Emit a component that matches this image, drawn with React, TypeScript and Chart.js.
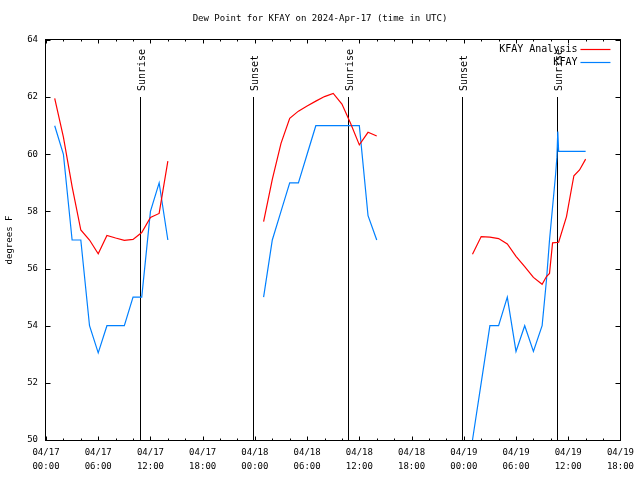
import React, { useEffect, useRef } from 'react';
import { Chart, registerables } from 'chart.js';

Chart.register(...registerables);

// ---- Data (hours since 2024-04-17 00:00 UTC) ----
const analysisHours: number[] = [
  1, 2, 3, 4, 5, 6, 7, 8, 9, 10, 11, 12, 13, 14,
  19,
  25, 26, 27, 28, 29, 30, 31, 32, 33, 34, 35, 36, 37, 38,
  44,
  49, 50, 51, 52, 53, 54, 55, 56, 57, 57.5, 57.85, 58.2, 58.9, 59.8, 60.35, 60.65, 61.3, 62,
];
const analysisValues: (number | null)[] = [
  61.96, 60.6, 58.87, 57.35, 57.0, 56.52, 57.16, 57.07, 56.99, 57.02, 57.26, 57.79, 57.93, 59.76,
  null,
  57.64, 59.12, 60.38, 61.26, 61.51, 61.69, 61.86, 62.02, 62.13, 61.76, 61.08, 60.33, 60.77, 60.64,
  null,
  56.5, 57.12, 57.1, 57.05, 56.86, 56.43, 56.07, 55.69, 55.45, 55.72, 55.83, 56.9, 56.92, 57.82, 58.75, 59.25, 59.45, 59.83,
];

const obsHours: number[] = [
  1, 2, 3, 4, 5, 6, 7, 8, 9, 10, 11, 12, 13, 14,
  19,
  25, 26, 27, 28, 29, 30, 31, 32, 33, 34, 35, 36, 37, 38,
  44,
  49, 50, 51, 52, 53, 54, 55, 56, 57, 57.5, 57.85, 58.55, 58.7, 58.8, 58.9, 62,
];
const obsValues: (number | null)[] = [
  61, 60, 57, 57, 54, 53.05, 54, 54, 54, 55, 55, 58, 59, 57,
  null,
  55, 57, 58, 59, 59, 60, 61, 61, 61, 61, 61, 61, 57.85, 57,
  null,
  50, 52, 54, 54, 55, 53.1, 54, 53.1, 54, 55.6, 57, 59.3, 59.9, 60.8, 60.1, 60.1,
];

const seriesLabels = ['KFAY Analysis', 'KFAY'];
const seriesColors = ['#ff0000', '#0080ff'];

const eventHours = [10.85, 23.8, 34.7, 47.8, 58.7];
const eventLabels = ['Sunrise', 'Sunset', 'Sunrise', 'Sunset', 'Sunrise'];

const xTickDates = ['04/17', '04/17', '04/17', '04/17', '04/18', '04/18', '04/18', '04/18', '04/19', '04/19', '04/19', '04/19'];
const xTickTimes = ['00:00', '06:00', '12:00', '18:00', '00:00', '06:00', '12:00', '18:00', '00:00', '06:00', '12:00', '18:00'];

const titleText = 'Dew Point for KFAY on 2024-Apr-17 (time in UTC)';
const yAxisTitle = 'degrees F';

const FONT = '"DejaVu Sans Mono", "Liberation Mono", monospace';

const decorPlugin = {
  id: 'decor',
  beforeDatasetsDraw(chart: any) {
    const { ctx, chartArea: a, scales } = chart;
    const x = scales.x;
    ctx.save();
    ctx.strokeStyle = '#000';
    ctx.fillStyle = '#000';
    ctx.lineWidth = 1;
    ctx.font = `10px ${FONT}`;
    eventHours.forEach((h, i) => {
      const px = Math.round(x.getPixelForValue(h)) + 0.5;
      ctx.beginPath();
      ctx.moveTo(px, a.top + 57);
      ctx.lineTo(px, a.bottom);
      ctx.stroke();
      ctx.save();
      ctx.translate(px + 1.5, a.top + 51);
      ctx.rotate(-Math.PI / 2);
      ctx.textAlign = 'left';
      ctx.textBaseline = 'middle';
      ctx.fillText(eventLabels[i], 0, 0);
      ctx.restore();
    });
    ctx.restore();
  },
  afterDatasetsDraw(chart: any) {
    const { ctx, chartArea: a, scales } = chart;
    const x = scales.x;
    const y = scales.y;
    const L = Math.round(a.left) - 0.5;
    const R = Math.round(a.right) + 0.5;
    const T = Math.round(a.top) - 0.5;
    const B = Math.round(a.bottom) + 0.5;
    ctx.save();
    ctx.strokeStyle = '#000';
    ctx.lineWidth = 1;
    ctx.beginPath();
    // x ticks (major every 6h, minor every 2h)
    for (let h = 0; h <= 66; h += 2) {
      const px = Math.round(x.getPixelForValue(h)) + 0.5;
      const len = h % 6 === 0 ? 4 : 2;
      ctx.moveTo(px, B);
      ctx.lineTo(px, B - len);
      ctx.moveTo(px, T);
      ctx.lineTo(px, T + len);
    }
    // y ticks
    for (let v = 50; v <= 64; v += 2) {
      const py = Math.round(y.getPixelForValue(v)) + 0.5;
      ctx.moveTo(L, py);
      ctx.lineTo(L + 5, py);
      ctx.moveTo(R, py);
      ctx.lineTo(R - 5, py);
    }
    ctx.stroke();
    ctx.strokeRect(L, T, R - L, B - T);

    // legend (text, then line sample)
    ctx.font = `10px ${FONT}`;
    ctx.textAlign = 'right';
    ctx.textBaseline = 'middle';
    ctx.fillStyle = '#000';
    chart.data.datasets.forEach((ds: any, i: number) => {
      const ly = a.top + 9.5 + i * 13;
      ctx.fillText(ds.label, a.right - 43, ly);
      ctx.strokeStyle = ds.borderColor;
      ctx.lineWidth = 1.2;
      ctx.beginPath();
      ctx.moveTo(a.right - 40, ly);
      ctx.lineTo(a.right - 10, ly);
      ctx.stroke();
    });

    // title
    ctx.fillStyle = '#000';
    ctx.font = `9px ${FONT}`;
    ctx.textAlign = 'center';
    ctx.textBaseline = 'middle';
    ctx.fillText(titleText, chart.width / 2, 19);

    // y axis title
    ctx.save();
    ctx.translate(10, (a.top + a.bottom) / 2);
    ctx.rotate(-Math.PI / 2);
    ctx.textAlign = 'center';
    ctx.textBaseline = 'middle';
    ctx.fillText(yAxisTitle, 0, 0);
    ctx.restore();
    ctx.restore();
  },
};

export default function App() {
  const canvasRef = useRef<HTMLCanvasElement | null>(null);

  useEffect(() => {
    const canvas = canvasRef.current;
    if (!canvas) return;
    const toPoints = (hs: number[], vs: (number | null)[]) => hs.map((h, i) => ({ x: h, y: vs[i] }));
    const chart = new Chart(canvas, {
      type: 'line',
      data: {
        datasets: [
          {
            label: seriesLabels[0],
            data: toPoints(analysisHours, analysisValues) as any,
            borderColor: seriesColors[0],
            backgroundColor: seriesColors[0],
            borderWidth: 1.2,
            pointRadius: 0,
            tension: 0,
            spanGaps: false,
          },
          {
            label: seriesLabels[1],
            data: toPoints(obsHours, obsValues) as any,
            borderColor: seriesColors[1],
            backgroundColor: seriesColors[1],
            borderWidth: 1.2,
            pointRadius: 0,
            tension: 0,
            spanGaps: false,
          },
        ],
      },
      options: {
        responsive: false,
        animation: false,
        devicePixelRatio: 1,
        layout: { padding: { top: 40, right: 19, left: 0, bottom: 0 } },
        plugins: {
          legend: { display: false },
          tooltip: { enabled: false },
          title: { display: false },
        },
        scales: {
          x: {
            type: 'linear',
            min: 0,
            max: 66,
            grid: { display: false, drawTicks: false },
            border: { display: false },
            afterFit: (s: any) => { s.height = 40; },
            ticks: {
              stepSize: 6,
              autoSkip: false,
              maxRotation: 0,
              padding: 6,
              color: '#000',
              font: { family: FONT, size: 9, lineHeight: 1.5 },
              callback: (v: any) => {
                const i = Math.round(Number(v) / 6);
                return [xTickDates[i], xTickTimes[i]];
              },
            },
          },
          y: {
            type: 'linear',
            min: 50,
            max: 64,
            grid: { display: false, drawTicks: false },
            border: { display: false },
            afterFit: (s: any) => { s.width = 46; },
            ticks: {
              stepSize: 2,
              padding: 8,
              color: '#000',
              font: { family: FONT, size: 9 },
            },
          },
        },
      },
      plugins: [decorPlugin],
    });
    return () => chart.destroy();
  }, []);

  return (
    <div style={{ position: 'absolute', left: 0, top: 0, width: 640, height: 480, background: '#fff' }}>
      <canvas ref={canvasRef} width={640} height={480} style={{ width: 640, height: 480, display: 'block' }} />
    </div>
  );
}
